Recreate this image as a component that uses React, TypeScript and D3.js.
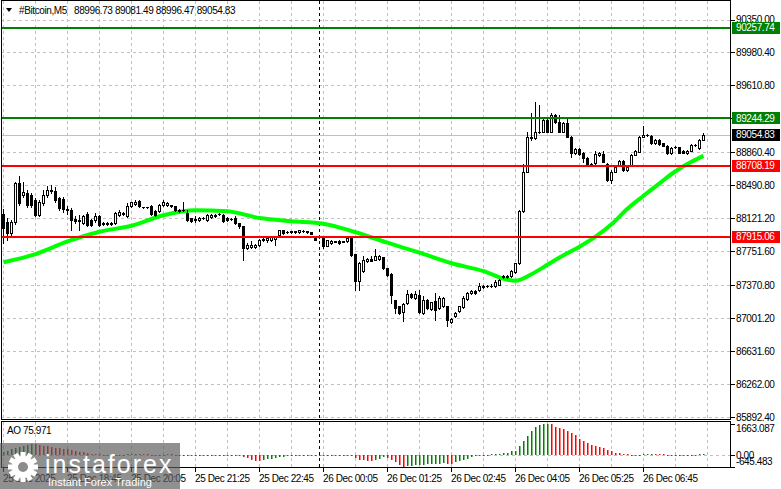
import React from "react";
import * as d3 from "d3";

// ---- DATA ----
const opens = [
  88172, 88082, 87959, 88082, 88519, 88384, 88407, 88384, 88328, 88160,
  88295, 88384, 88440, 88429, 88351, 88340, 88228, 88216, 88116, 88104,
  88067, 88172, 88104, 88097, 88141, 88071, 88071, 88060, 88067, 88160,
  88183, 88149, 88253, 88284, 88317, 88244, 88244, 88253, 88197, 88197,
  88272, 88272, 88265, 88253, 88216, 88216, 88180, 88123, 88112, 88104,
  88123, 88104, 88135, 88141, 88168, 88160, 88123, 88116, 88123, 88067,
  88029, 87787, 87799, 87799, 87824, 87880, 87873, 87880, 87888, 87936,
  87985, 87967, 87973, 87973, 87962, 87981, 87973, 87962, 87917, 87911,
  87911, 87813, 87843, 87861, 87869, 87861, 87861, 87911, 87720, 87413,
  87525, 87637, 87668, 87656, 87664, 87687, 87563, 87500, 87201, 87133,
  87066, 87171, 87272, 87227, 87264, 87059, 87208, 87104, 87190, 87115,
  87133, 87133, 86954, 87021, 87077, 87127, 87216, 87283, 87309, 87313,
  87365, 87362, 87365, 87357, 87376, 87466, 87466, 87469, 87514, 87619,
  88197, 88645, 89031, 89019, 89093, 89093, 89224, 89093, 89280, 89205,
  89093, 89187, 89037, 88851, 88896, 88851, 88795, 88732, 88739, 88832,
  88843, 88732, 88545, 88645, 88720, 88768, 88657, 88720, 88832, 88869,
  89037, 89056, 89049, 88963, 89000, 88963, 88933, 88851, 88919, 88919,
  88877, 88851, 88880, 88944, 88907, 88996.73,
];
const highs = [
  88228, 88127, 88104, 88530, 88597, 88530, 88440, 88407, 88351, 88328,
  88440, 88485, 88496, 88474, 88362, 88362, 88261, 88239, 88149, 88160,
  88160, 88194, 88116, 88183, 88160, 88082, 88082, 88082, 88194, 88216,
  88194, 88291, 88309, 88328, 88328, 88250, 88250, 88272, 88216, 88284,
  88328, 88306, 88272, 88261, 88228, 88309, 88216, 88127, 88141, 88138,
  88138, 88172, 88172, 88172, 88177, 88172, 88132, 88127, 88141, 88071,
  88037, 87847, 87861, 87836, 87892, 87903, 87914, 87925, 87925, 87992,
  87992, 87981, 87981, 87981, 87992, 87987, 87981, 87970, 87925, 87920,
  87914, 87880, 87875, 87869, 87873, 87869, 87903, 87914, 87724, 87634,
  87693, 87673, 87693, 87776, 87707, 87690, 87567, 87505, 87208, 87141,
  87169, 87313, 87281, 87301, 87320, 87245, 87214, 87186, 87287, 87245,
  87236, 87141, 87001, 87068, 87141, 87253, 87292, 87320, 87315, 87396,
  87371, 87371, 87388, 87432, 87438, 87488, 87488, 87544, 87623, 88211,
  88732, 89093, 89299, 89429, 89392, 89261, 89247, 89299, 89292, 89280,
  89202, 89236, 89045, 88911, 88905, 88866, 88804, 88743, 88877, 88866,
  88877, 88743, 88659, 88715, 88776, 88776, 88704, 88838, 88883, 89045,
  89157, 89068, 89056, 89006, 89006, 88967, 88939, 88916, 88928, 88922,
  88883, 88883, 88950, 88956, 89006, 89081.49,
];
const lows = [
  87847, 87880, 87925, 88060, 88272, 88362, 88250, 88250, 88149, 88149,
  88272, 88362, 88407, 88306, 88216, 88194, 88172, 87985, 88071, 87985,
  88060, 88029, 88037, 88082, 88037, 88048, 88048, 88048, 88060, 88149,
  88160, 88138, 88250, 88272, 88244, 88239, 88239, 88160, 88149, 88194,
  88261, 88261, 88250, 88205, 88194, 88205, 88085, 88082, 88074, 88093,
  88110, 88093, 88127, 88132, 88155, 88076, 88093, 88104, 88060, 88011,
  87656, 87780, 87791, 87791, 87813, 87869, 87858, 87861, 87824, 87931,
  87948, 87953, 87959, 87959, 87953, 87970, 87953, 87942, 87875, 87897,
  87787, 87807, 87836, 87852, 87838, 87852, 87858, 87701, 87320, 87320,
  87522, 87634, 87640, 87651, 87656, 87555, 87477, 87171, 87059, 87052,
  86965, 87164, 87231, 87220, 87057, 87052, 87108, 87096, 86984, 87108,
  87124, 86909, 86945, 87012, 87068, 87119, 87208, 87276, 87276, 87304,
  87343, 87354, 87354, 87348, 87371, 87455, 87455, 87460, 87505, 87612,
  88194, 88642, 89000, 89012, 89075, 89084, 89084, 89090, 89191, 89084,
  89084, 89028, 88813, 88843, 88832, 88757, 88720, 88720, 88732, 88821,
  88748, 88536, 88515, 88636, 88709, 88648, 88648, 88715, 88827, 88866,
  89034, 89045, 88956, 88956, 88944, 88928, 88843, 88843, 88905, 88851,
  88851, 88843, 88871, 88933, 88900, 88996.47,
];
const closes = [
  88015, 87959, 88082, 88519, 88295, 88418, 88272, 88272, 88160, 88306,
  88384, 88440, 88429, 88328, 88239, 88228, 88216, 88104, 88085, 88093,
  88141, 88048, 88048, 88149, 88048, 88060, 88060, 88071, 88180, 88191,
  88172, 88253, 88298, 88309, 88253, 88242, 88242, 88172, 88160, 88265,
  88298, 88291, 88261, 88216, 88197, 88211, 88104, 88085, 88097, 88123,
  88121, 88160, 88160, 88160, 88166, 88085, 88104, 88113, 88067, 88029,
  87787, 87824, 87824, 87824, 87880, 87888, 87899, 87911, 87911, 87985,
  87955, 87964, 87970, 87970, 87985, 87978, 87962, 87948, 87880, 87908,
  87805, 87873, 87869, 87860, 87843, 87860, 87899, 87712, 87413, 87619,
  87656, 87668, 87645, 87701, 87701, 87563, 87488, 87264, 87115, 87059,
  87164, 87272, 87239, 87272, 87066, 87208, 87115, 87178, 87089, 87227,
  87227, 86984, 86992, 87059, 87133, 87227, 87283, 87309, 87283, 87365,
  87351, 87365, 87363, 87407, 87432, 87471, 87477, 87525, 87619, 88197,
  88645, 89037, 89019, 89093, 89090, 89224, 89093, 89280, 89205, 89093,
  89187, 89037, 88851, 88896, 88843, 88795, 88732, 88729, 88843, 88851,
  88757, 88545, 88645, 88701, 88768, 88657, 88695, 88832, 88877, 89037,
  89056, 89054, 88963, 89000, 88956, 88933, 88851, 88907, 88916, 88858,
  88858, 88877, 88944, 88942, 89000, 89054.83,
];

// moving average read at sample bars
const maBars = [0, 8, 16, 24, 32, 40, 48, 56, 64, 72, 80, 88, 96, 104, 112, 120, 126, 128, 132, 136, 140, 144, 148, 152, 156, 160, 164, 168, 172, 175];
const maValues = [87628, 87718, 87861, 87970, 88037, 88155, 88211, 88200, 88123, 88088, 88060, 87964, 87847, 87735, 87617, 87528, 87432, 87421, 87494, 87600, 87707, 87802, 87914, 88054, 88228, 88373, 88513, 88648, 88754, 88821];

// Awesome Oscillator
const aoValues = [
  180, 240, 310, 370, 420, 490, 550, 600, 570, 540,
  500, 470, 440, 400, 370, 330, 300, 260, 220, 180,
  140, 100, 70, 50, 30, 20, 10, 5, 12, 20,
  18, 30, 45, 55, 50, 40, 30, 20, 10, 15,
  25, 30, 28, 20, 15, 12, 5, -5, -15, -20,
  -18, -10, -5, 0, 5, -5, -10, -15, -25, -40,
  -100, -160, -250, -300, -310, -260, -230, -190, -160, -110,
  -90, -60, -30, -10, 5, 10, 8, 5, -5, -10,
  -30, -35, -38, -30, -25, -28, -25, -60, -150, -250,
  -280, -300, -310, -270, -200, -120, -180, -270, -380, -520,
  -645.483, -600, -570, -555, -540, -525, -510, -495, -480, -465,
  -450, -470, -480, -390, -350, -280, -190, -120, -60, -15,
  10, 20, 50, 60, 62, 95, 130, 190, 230, 475,
  750, 1030, 1300, 1490, 1590, 1640, 1663.087, 1655, 1500, 1440,
  1400, 1310, 1180, 1070, 880, 750, 650, 560, 470, 410,
  370, 280, 220, 130, 95, 60, 40, 25, 15, 20,
  30, 45, 55, 50, 40, 30, 20, 10, 5, -5,
  -10, -8, -5, -3, 30, 75.971,
];

const priceTicks = [90350.0, 89980.4, 89610.8, 89241.2, 88860.4, 88490.8, 88121.2, 87751.6, 87370.8, 87001.2, 86631.6, 86262.0, 85892.4];
const timeLabelBars = [0, 16, 32, 48, 64, 80, 96, 112, 128, 144, 160];
const timeLabels = ["25 Dec 2025", "25 Dec 18:45", "25 Dec 20:05", "25 Dec 21:25", "25 Dec 22:45", "26 Dec 00:05", "26 Dec 01:25", "26 Dec 02:45", "26 Dec 04:05", "26 Dec 05:25", "26 Dec 06:45"];
const levelPrices = [90257.74, 89244.29, 88708.19, 87915.06];
const levelColors = ["#008000", "#008000", "#ff0000", "#ff0000"];
const symbolName = "#Bitcoin,M5";
const daySeparatorBar = 79;

const FONT = "'Liberation Sans', Arial, sans-serif";

export default function App() {
  const n = closes.length;
  const x = d3.scaleLinear().domain([0, 1]).range([3.5, 7.5]);
  const y = d3.scaleLinear().domain([85892.4, 90350]).range([417, 19.5]);
  const aoMin = d3.min(aoValues) as number;
  const aoMax = d3.max(aoValues) as number;
  const yAO = d3.scaleLinear().domain([aoMin, aoMax]).range([467, 424]);
  const snap = (v: number) => Math.round(v) + 0.5;

  const gridBars = d3.range(0, 177, 8);
  const lastPrice = closes[n - 1];

  const maPath = d3
    .line<number>()
    .x((_, k) => x(maBars[k]))
    .y((d) => y(d))
    .curve(d3.curveMonotoneX)(maValues) as string;

  const txt = { fontFamily: FONT, fontSize: 10, letterSpacing: -0.4 } as React.CSSProperties;

  const gearTeeth = d3.range(0, 180, 30);

  return (
    <svg width={781} height={489} style={{ position: "absolute", left: 0, top: 0, display: "block", background: "#fff" }}>
      <rect x={0} y={0} width={781} height={489} fill="#fff" />

      {/* horizontal grid main */}
      {priceTicks.map((p, k) => (
        <line key={"hg" + k} x1={1} x2={730} y1={snap(y(p))} y2={snap(y(p))} stroke="#c0c0c0" strokeDasharray="3 3" />
      ))}
      {/* vertical grid main + AO */}
      {gridBars.map((b) => (
        <g key={"vg" + b}>
          <line x1={x(b)} x2={x(b)} y1={1} y2={419} stroke="#c0c0c0" strokeDasharray="3 3" />
          <line x1={x(b)} x2={x(b)} y1={422} y2={467} stroke="#c0c0c0" strokeDasharray="3 3" />
        </g>
      ))}
      {/* day separator */}
      <line x1={x(daySeparatorBar)} x2={x(daySeparatorBar)} y1={1} y2={419} stroke="#000" strokeDasharray="3 3" />
      <line x1={x(daySeparatorBar)} x2={x(daySeparatorBar)} y1={422} y2={467} stroke="#000" strokeDasharray="3 3" />

      {/* current price line */}
      <line x1={1} x2={730} y1={snap(y(lastPrice))} y2={snap(y(lastPrice))} stroke="#c0c0c0" />

      {/* moving average */}
      <path d={maPath} fill="none" stroke="#00ff00" strokeWidth={4} strokeLinejoin="round" />

      {/* candles */}
      {closes.map((c, i) => {
        const o = opens[i];
        const hi = Math.max(highs[i], o, c);
        const lo = Math.min(lows[i], o, c);
        const cx = x(i);
        const yTop = Math.round(y(Math.max(o, c)));
        const yBot = Math.round(y(Math.min(o, c)));
        const yH = Math.round(y(hi));
        const yL = Math.round(y(lo));
        const bull = c >= o;
        const h = yBot - yTop;
        return (
          <g key={"c" + i}>
            <line x1={cx} x2={cx} y1={yH} y2={yL + 1} stroke="#000" strokeWidth={1} />
            {h < 1 ? (
              <line x1={cx - 1.5} x2={cx + 1.5} y1={yTop + 0.5} y2={yTop + 0.5} stroke="#000" />
            ) : bull ? (
              <rect x={cx - 1} y={yTop + 0.5} width={2} height={h} fill="#fff" stroke="#000" strokeWidth={1} />
            ) : (
              <rect x={cx - 1.5} y={yTop} width={3} height={h + 1} fill="#000" />
            )}
          </g>
        );
      })}

      {/* level lines */}
      {levelPrices.map((p, k) => (
        <line key={"lv" + k} x1={1} x2={730} y1={Math.round(y(p))} y2={Math.round(y(p))} stroke={levelColors[k]} strokeWidth={2} />
      ))}

      {/* frames */}
      <rect x={1.5} y={0.5} width={729} height={419} fill="none" stroke="#000" />
      <rect x={1.5} y={421.5} width={729} height={46} fill="none" stroke="#000" />

      {/* right price axis */}
      {priceTicks.map((p, k) => (
        <g key={"pt" + k}>
          <line x1={731} x2={735} y1={snap(y(p))} y2={snap(y(p))} stroke="#000" />
          <text x={736} y={y(p)} dominantBaseline="central" style={txt} fill="#000">
            {p.toFixed(2)}
          </text>
        </g>
      ))}

      {/* level boxes */}
      {levelPrices.map((p, k) => (
        <g key={"lb" + k}>
          <rect x={732} y={Math.round(y(p)) - 6} width={48} height={12} fill={levelColors[k]} />
          <text x={736} y={y(p)} dominantBaseline="central" style={txt} fill="#fff">
            {p.toFixed(2)}
          </text>
        </g>
      ))}
      <g>
        <rect x={732} y={Math.round(y(lastPrice)) - 6} width={48} height={12} fill="#000" />
        <text x={736} y={y(lastPrice)} dominantBaseline="central" style={txt} fill="#fff">
          {lastPrice.toFixed(2)}
        </text>
      </g>

      {/* header */}
      <polygon points="6,8 12,8 9,12" fill="#000" />
      <text x={19} y={13.5} style={txt} fill="#000">{symbolName}</text>
      <text x={74} y={13.5} style={txt} fill="#000">
        {[opens[n - 1], highs[n - 1], lows[n - 1], closes[n - 1]].map((v) => v.toFixed(2)).join(" ")}
      </text>

      {/* AO panel */}
      <line x1={2} x2={730} y1={snap(yAO(0))} y2={snap(yAO(0))} stroke="#c0c0c0" strokeDasharray="3 3" />
      {aoValues.map((v, i) => {
        const prev = i === 0 ? -Infinity : aoValues[i - 1];
        const col = v > prev ? "#008000" : "#ff0000";
        const y0 = Math.round(yAO(0));
        const y1 = Math.round(yAO(v));
        return (
          <rect key={"ao" + i} x={x(i) - 0.5} y={Math.min(y0, y1)} width={1.5} height={Math.max(1, Math.abs(y1 - y0))} fill={col} />
        );
      })}
      <text x={7} y={430} dominantBaseline="central" style={txt} fill="#000">
        {"AO " + aoValues[n - 1].toFixed(3)}
      </text>
      {[aoMax, 0, aoMin].map((v, k) => (
        <g key={"aol" + k}>
          <line x1={731} x2={735} y1={snap(yAO(v))} y2={snap(yAO(v))} stroke="#000" />
          <text x={736} y={k === 0 ? 428.5 : k === 1 ? 455 : 461} dominantBaseline="central" style={txt} fill="#000">
            {v === 0 ? "0.00" : v.toFixed(3)}
          </text>
        </g>
      ))}

      {/* time axis */}
      {timeLabelBars.map((b, k) => (
        <g key={"tl" + k}>
          <line x1={x(b)} x2={x(b)} y1={468} y2={472} stroke="#000" />
          <text x={x(b) - 0.5} y={481.5} style={txt} fill="#000">
            {timeLabels[k]}
          </text>
        </g>
      ))}

      {/* watermark */}
      <g>
        <rect x={0} y={443} width={180} height={46} fill="rgb(92,92,92)" opacity={0.68} />
        <g transform="translate(23,467)" fill="#fff">
          {gearTeeth.map((a) => (
            <rect key={"gt" + a} x={-2.5} y={-15} width={5} height={30} transform={`rotate(${a})`} />
          ))}
          <circle r={11} />
          <circle r={5} fill="rgb(140,140,140)" />
        </g>
        <text x={45} y={473} fill="#fff" style={{ fontFamily: FONT, fontSize: 25, letterSpacing: 2 }}>
          instaforex
        </text>
        <text x={48} y={485.5} fill="#fff" style={{ fontFamily: FONT, fontSize: 11 }}>
          Instant Forex Trading
        </text>
      </g>
    </svg>
  );
}
